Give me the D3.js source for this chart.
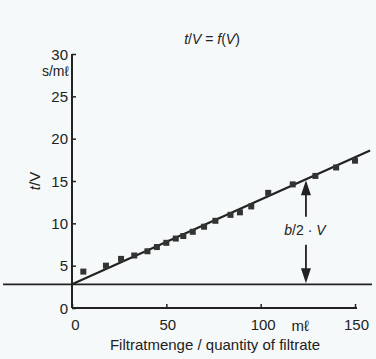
<!doctype html>
<html lang="en">
<head>
	<meta charset="utf-8">
	<title>t/V = f(V)</title>
	<script src="https://cdn.jsdelivr.net/npm/d3@7"></script>
	<style>
		html, body { margin: 0; padding: 0; background: #f5f9f9; }
		svg { display: block; font-family: "Liberation Sans", Arial, sans-serif; }
	</style>
</head>
<body>
	<div id="chart"></div>
	<script>
		// measured points
		var volume = [6, 18, 26, 33, 40, 45, 50, 55, 59, 64, 70, 76, 84, 89, 95, 104, 117, 129, 140, 150];
		var timePerVolume = [4.3, 5.0, 5.8, 6.2, 6.7, 7.2, 7.7, 8.2, 8.5, 9.0, 9.6, 10.3, 11.0, 11.3, 12.0, 13.6, 14.6, 15.6, 16.6, 17.4];

		// fitted line t/V = a + b/2 * V
		var intercept = 2.8;
		var slope = 0.1;
		var fitRange = [0, 158];
		var arrowAt = 124;

		var xTicks = [0, 50, 100, 150];
		var yTicks = [0, 5, 10, 15, 20, 25, 30];

		var width = 376, height = 359;
		var ink = "#222";

		var svg = d3.select("#chart").append("svg")
			.attr("width", width).attr("height", height);

		var x = d3.scaleLinear().domain([0, 150]).range([72, 355]);
		var y = d3.scaleLinear().domain([0, 30]).range([308, 54]);

		// axes
		var xAxis = svg.append("g")
			.attr("transform", "translate(0," + y(0) + ")")
			.call(d3.axisBottom(x).tickValues(xTicks).tickSizeInner(-4).tickSizeOuter(0).tickPadding(8));
		xAxis.select(".domain").attr("d", "M" + x(0) + ",0H" + (x(150) + 2)).attr("stroke", ink).attr("stroke-width", 2);
		xAxis.selectAll(".tick line").attr("stroke", ink).attr("stroke-width", 1.5);
		xAxis.selectAll(".tick text").attr("fill", ink).attr("font-size", 15).attr("dy", "0.9em")
			.attr("dx", function(d) { return d === 0 ? 3 : (d === 100 ? 2 : 1); });

		var yAxis = svg.append("g")
			.attr("transform", "translate(" + x(0) + ",0)")
			.call(d3.axisLeft(y).tickValues(yTicks).tickSizeInner(-4).tickSizeOuter(0).tickPadding(4));
		yAxis.select(".domain").attr("d", "M0," + y(30) + "V" + y(0)).attr("stroke", ink).attr("stroke-width", 2);
		yAxis.selectAll(".tick line").attr("stroke", ink).attr("stroke-width", 1.5);
		yAxis.selectAll(".tick text").attr("fill", ink).attr("font-size", 15).attr("dy", "0.35em");

		// unit labels
		svg.append("text").attr("x", x(0) - 3).attr("y", y(30) + 22)
			.attr("text-anchor", "end").attr("font-size", 14).attr("fill", ink).text("s/mℓ");
		svg.append("text").attr("x", x(121)).attr("y", y(0) + 23)
			.attr("text-anchor", "middle").attr("font-size", 15).attr("fill", ink).text("mℓ");

		// baseline (intercept)
		svg.append("line")
			.attr("x1", 3).attr("x2", width - 4)
			.attr("y1", y(intercept)).attr("y2", y(intercept))
			.attr("stroke", ink).attr("stroke-width", 1.8);

		// fitted line
		svg.append("line")
			.attr("x1", x(fitRange[0])).attr("y1", y(intercept + slope * fitRange[0]))
			.attr("x2", x(fitRange[1])).attr("y2", y(intercept + slope * fitRange[1]))
			.attr("stroke", ink).attr("stroke-width", 2.2);

		// points
		svg.selectAll(".pt")
			.data(volume)
			.enter().append("rect")
			.attr("class", "pt")
			.attr("x", function(d) { return x(d) - 3; })
			.attr("y", function(d, i) { return y(timePerVolume[i]) - 3; })
			.attr("width", 6).attr("height", 6)
			.attr("fill", "#333");

		// arrow b/2 * V
		var ax = x(arrowAt);
		var yTop = y(intercept + slope * arrowAt);
		var yBot = y(intercept);
		var yMid = (yTop + yBot) / 2 - 2;
		svg.append("line").attr("x1", ax).attr("x2", ax).attr("y1", yTop + 12).attr("y2", yMid - 13)
			.attr("stroke", ink).attr("stroke-width", 1.8);
		svg.append("line").attr("x1", ax).attr("x2", ax).attr("y1", yMid + 15).attr("y2", yBot - 12)
			.attr("stroke", ink).attr("stroke-width", 1.8);
		svg.append("path")
			.attr("d", "M" + ax + "," + (yTop + 1) + "L" + (ax - 5) + "," + (yTop + 16) + "L" + (ax + 5) + "," + (yTop + 16) + "Z")
			.attr("fill", ink);
		svg.append("path")
			.attr("d", "M" + ax + "," + (yBot - 1) + "L" + (ax - 5) + "," + (yBot - 16) + "L" + (ax + 5) + "," + (yBot - 16) + "Z")
			.attr("fill", ink);
		var lbl = svg.append("text").attr("x", ax - 1).attr("y", yMid + 5)
			.attr("text-anchor", "middle").attr("font-size", 14).attr("fill", ink);
		lbl.append("tspan").attr("font-style", "italic").text("b");
		lbl.append("tspan").text("/2 · ");
		lbl.append("tspan").attr("font-style", "italic").text("V");

		// title
		var title = svg.append("text").attr("x", 212).attr("y", 44)
			.attr("text-anchor", "middle").attr("font-size", 14).attr("fill", ink);
		title.append("tspan").attr("font-style", "italic").text("t");
		title.append("tspan").text("/");
		title.append("tspan").attr("font-style", "italic").text("V");
		title.append("tspan").text(" = ");
		title.append("tspan").attr("font-style", "italic").text("f");
		title.append("tspan").text("(");
		title.append("tspan").attr("font-style", "italic").text("V");
		title.append("tspan").text(")");

		// y title
		var ytitle = svg.append("text")
			.attr("transform", "translate(40," + y(15) + ") rotate(-90)")
			.attr("text-anchor", "middle").attr("font-size", 15).attr("fill", ink);
		ytitle.append("tspan").attr("font-style", "italic").text("t");
		ytitle.append("tspan").text("/V");

		// x title
		svg.append("text").attr("x", 215).attr("y", 350)
			.attr("text-anchor", "middle").attr("font-size", 15).attr("fill", ink)
			.text("Filtratmenge / quantity of filtrate");
	</script>
</body>
</html>
